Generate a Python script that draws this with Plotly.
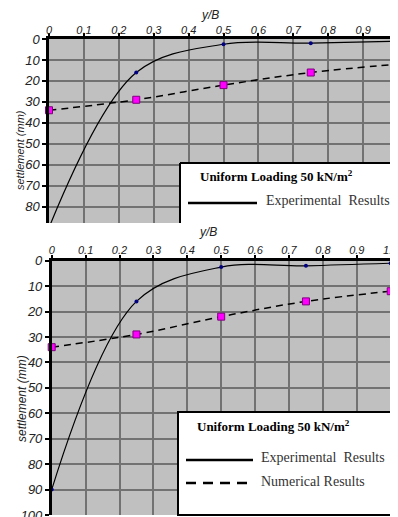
import plotly.graph_objects as go

# ---- data ----
yb = [0.0, 0.25, 0.5, 0.75, 1.0]
experimental = [90, 16, 2.5, 2, 1]
numerical = [34, 29, 22, 16, 12]
x_tickvals = [0, 0.1, 0.2, 0.3, 0.4, 0.5, 0.6, 0.7, 0.8, 0.9, 1.0]
x_ticktext = ["0", "0.1", "0.2", "0.3", "0.4", "0.5", "0.6", "0.7", "0.8", "0.9", "1.0"]
y_ticks_top = [0, 10, 20, 30, 40, 50, 60, 70, 80]
y_ticks_bottom = [0, 10, 20, 30, 40, 50, 60, 70, 80, 90, 100]
legend_title = "<b>Uniform Loading 50 kN/m<sup>2</sup></b>"
legend_exp = "Experimental\u00a0 Results"
legend_num = "Numerical Results"

# page body has an 8px margin, so the figure origin sits at (8, 8) in the window
OFF = 8
W, H = 398 - OFF, 517 - OFF
def px(x):
    return (x - OFF) / W
def py(y):
    return 1 - (y - OFF) / H

fig = go.Figure()

for xa, ya in [("x", "y"), ("x2", "y2")]:
    fig.add_trace(go.Scatter(
        x=yb, y=experimental, xaxis=xa, yaxis=ya, mode="lines+markers",
        line=dict(color="black", width=1.2, shape="spline", smoothing=1.0),
        marker=dict(color="#000080", size=4), showlegend=False, cliponaxis=True))
    fig.add_trace(go.Scatter(
        x=yb, y=numerical, xaxis=xa, yaxis=ya, mode="lines+markers",
        line=dict(color="black", width=1.5, dash="7px,5px", shape="spline", smoothing=1.0),
        marker=dict(color="#ff00ff", size=7, symbol="square", line=dict(color="#800080", width=1)),
        showlegend=False, cliponaxis=False))

xtickfont = dict(family="Liberation Sans Narrow, Liberation Sans", size=11, style="italic", color="#222")
ytickfont = dict(family="Liberation Sans", size=13, style="italic", color="#222")

common_x = dict(side="top", range=[0, 1.0], tickvals=x_tickvals, ticktext=x_ticktext,
                showgrid=True, gridcolor="#727272", gridwidth=1.5, showline=True,
                linecolor="black", linewidth=2.5, ticks="outside", ticklen=3, tickwidth=2,
                tickcolor="black", tickfont=xtickfont, zeroline=False, fixedrange=True,
                automargin=False, ticklabeloverflow="allow")
common_y = dict(showgrid=True, gridcolor="#727272", gridwidth=1.5, showline=True,
                linecolor="black", linewidth=2.5, ticks="outside", ticklen=4, tickwidth=2,
                tickcolor="black", tickfont=ytickfont, zeroline=False, fixedrange=True,
                automargin=False, ticklabeloverflow="allow")

fig.update_layout(
    template="none",
    width=W, height=H, margin=dict(l=0, r=0, t=0, b=0, pad=0),
    paper_bgcolor="white", plot_bgcolor="#c0c0c0", showlegend=False,
    xaxis=dict(domain=[px(49), 1.0], anchor="y", ticklabelstandoff=-5, **common_x),
    yaxis=dict(domain=[py(223), py(39)], anchor="x", range=[87.8, 0], tickvals=y_ticks_top, **common_y),
    xaxis2=dict(domain=[px(51.7), px(390.7)], anchor="y2", ticklabelstandoff=-3, **common_x),
    yaxis2=dict(domain=[py(515), py(260.7)], anchor="x2", range=[100, 0], tickvals=y_ticks_bottom, **common_y),
)

shapes = []
ann = []
title_font = dict(family="Liberation Sans", size=12, style="italic", color="#222")
# axis titles
ann.append(dict(x=px(210), y=py(15), xref="paper", yref="paper", text="y/B", showarrow=False,
                font=title_font, xanchor="center", yanchor="middle"))
ann.append(dict(x=px(208), y=py(232), xref="paper", yref="paper", text="y/B", showarrow=False,
                font=title_font, xanchor="center", yanchor="middle"))
ann.append(dict(x=px(20), y=py(150), xref="paper", yref="paper", text="settlement (mm)", showarrow=False,
                font=dict(family="Liberation Sans", size=11, style="italic", color="#222"),
                textangle=-90, xanchor="center", yanchor="middle"))
ann.append(dict(x=px(22), y=py(399), xref="paper", yref="paper", text="settlement (mm)", showarrow=False,
                font=title_font, textangle=-90, xanchor="center", yanchor="middle"))

serif = "Liberation Serif, Times New Roman, serif"
# bottom legend
shapes.append(dict(type="rect", xref="paper", yref="paper", x0=px(178), x1=px(392), y0=py(515), y1=py(412),
                   fillcolor="white", line=dict(color="black", width=2)))
ann.append(dict(x=px(195), y=py(426), xref="paper", yref="paper", text=legend_title, showarrow=False,
                font=dict(family=serif, size=13, color="black"), xanchor="left", yanchor="middle"))
shapes.append(dict(type="line", xref="paper", yref="paper", x0=px(186), x1=px(253), y0=py(460), y1=py(460),
                   line=dict(color="black", width=2.5)))
ann.append(dict(x=px(259), y=py(457), xref="paper", yref="paper", text=legend_exp, showarrow=False,
                font=dict(family=serif, size=14, color="#333"), xanchor="left", yanchor="middle"))
shapes.append(dict(type="line", xref="paper", yref="paper", x0=px(186), x1=px(252), y0=py(483), y1=py(483),
                   line=dict(color="black", width=2.5, dash="10px,7px")))
ann.append(dict(x=px(259), y=py(481), xref="paper", yref="paper", text=legend_num, showarrow=False,
                font=dict(family=serif, size=14, color="#333"), xanchor="left", yanchor="middle"))

# top legend (clipped by crop)
shapes.append(dict(type="rect", xref="paper", yref="paper", x0=px(180), x1=px(400), y0=py(223), y1=py(163),
                   fillcolor="white", line=dict(width=0)))
shapes.append(dict(type="line", xref="paper", yref="paper", x0=px(180), x1=px(180), y0=py(223), y1=py(163),
                   line=dict(color="black", width=2)))
shapes.append(dict(type="line", xref="paper", yref="paper", x0=px(180), x1=px(400), y0=py(163), y1=py(163),
                   line=dict(color="black", width=2)))
ann.append(dict(x=px(198), y=py(176), xref="paper", yref="paper", text=legend_title, showarrow=False,
                font=dict(family=serif, size=13, color="black"), xanchor="left", yanchor="middle"))
shapes.append(dict(type="line", xref="paper", yref="paper", x0=px(188), x1=px(257), y0=py(203), y1=py(203),
                   line=dict(color="black", width=2.5)))
ann.append(dict(x=px(264), y=py(200), xref="paper", yref="paper", text=legend_exp, showarrow=False,
                font=dict(family=serif, size=14, color="#333"), xanchor="left", yanchor="middle"))

fig.update_layout(shapes=shapes, annotations=ann)
fig.write_html("out.html")
